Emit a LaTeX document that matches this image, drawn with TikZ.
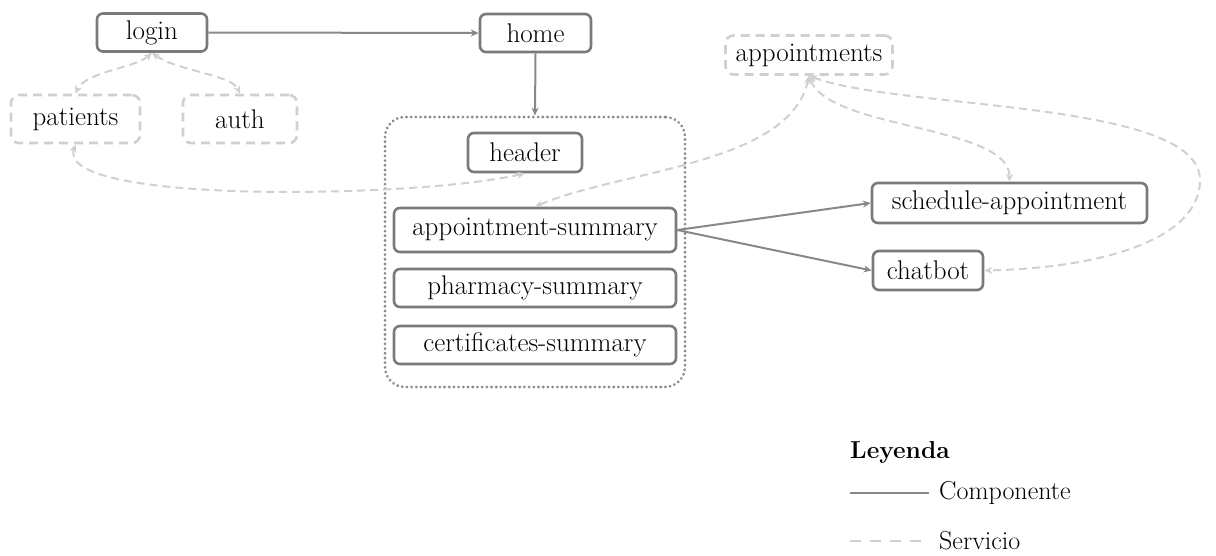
\documentclass[tikz,border=0pt]{standalone}
\usetikzlibrary{arrows.meta}
\definecolor{cmp}{HTML}{7A7A7A}
\definecolor{cmpl}{HTML}{888888}
\definecolor{srv}{HTML}{D0D0D0}
\definecolor{cont}{HTML}{8A8A8A}
\begin{document}
\begin{tikzpicture}[x=1pt,y=-1pt,
  txt/.style={font=\fontsize{27}{30}\selectfont},
  comp/.style={txt, draw=cmp, line width=2.6pt, rounded corners=6pt, minimum height=38pt, inner sep=0pt, fill=white, text=black},
  serv/.style={txt, draw=srv, line width=2.6pt, dash pattern=on 9pt off 6pt, rounded corners=8pt, minimum height=48pt, inner sep=0pt, text=black},
  carrow/.style={draw=cmpl, line width=2pt, -{Stealth[length=8pt,width=7pt]}},
  sarrow/.style={draw=srv, line width=2pt, dash pattern=on 8pt off 5pt, {Stealth[length=8pt,width=7pt]}-{Stealth[length=8pt,width=7pt]}}
]
\useasboundingbox (0,0) rectangle (1216,555);
% container
\node[draw=cont, line width=3pt, dash pattern=on 0.1pt off 4.6pt, line cap=round, rounded corners=20pt, minimum width=300pt, minimum height=270pt, inner sep=0pt] (cont) at (535,252) {};
% components
\node[comp, minimum width=110pt] (login) at (152,32.5) {login};
\node[comp, minimum width=111pt] (home) at (535.5,33) {home};
\node[comp, minimum width=114pt, minimum height=39pt] (header) at (525,152.5) {header};
\node[comp, minimum width=282pt, minimum height=44pt] (asum) at (535,230) {appointment-summary};
\node[comp, minimum width=282pt] (psum) at (535,288) {pharmacy-summary};
\node[comp, minimum width=282pt] (csum) at (535,345) {certificates-summary};
\node[comp, minimum width=275pt, minimum height=40pt] (sched) at (1009.5,203) {schedule-appointment};
\node[comp, minimum width=110pt, minimum height=39pt] (chat) at (928,270.5) {chatbot};
% services
\node[serv, minimum width=167pt, minimum height=39pt] (appts) at (809,55) {appointments};
\node[serv, minimum width=129pt] (patients) at (75.5,119) {patients};
\node[serv, minimum width=114pt] (auth) at (240,119) {auth};
% component edges
\draw[carrow] (login.east) -- (home.west);
\draw[carrow] (home.south) -- (cont.north);
\draw[carrow] (asum.east) -- (sched.west);
\draw[carrow] (asum.east) -- (chat.west);
% service edges
\draw[sarrow] (login.south) .. controls (135,68) and (85,72) .. (patients.north);
\draw[sarrow] (login.south) .. controls (175,70) and (232,75) .. (auth.north);
\draw[sarrow] (patients.south) .. controls (55,205) and (420,198) .. (header.south);
\draw[sarrow] (appts.south) .. controls (790,165) and (620,170) .. (asum.north);
\draw[sarrow] (appts.south) .. controls (830,130) and (1010,125) .. (sched.north);
\coordinate (far) at (1200,180);
\draw[sarrow] (appts.south) .. controls (900,110) and (1200,100) .. (far) .. controls (1200,240) and (1100,268) .. (chat.east);
% legend
\node[anchor=west, inner sep=0pt, font=\fontsize{24.5}{28}\selectfont\bfseries] (leg) at (850,452) {Leyenda};
\coordinate (l1) at (850,493);
\coordinate (l2) at (929,493);
\draw[draw=cmpl, line width=2.4pt] (l1) -- (l2);
\node[anchor=west, inner sep=0pt, font=\fontsize{26}{30}\selectfont] (lcomp) at (939,493) {Componente};
\coordinate (l3) at (850,541);
\coordinate (l4) at (922,541);
\draw[draw=srv, line width=2.4pt, dash pattern=on 11pt off 9pt] (l3) -- (l4);
\node[anchor=west, inner sep=0pt, font=\fontsize{26}{30}\selectfont] (lserv) at (939,541) {Servicio};
\end{tikzpicture}
\end{document}
